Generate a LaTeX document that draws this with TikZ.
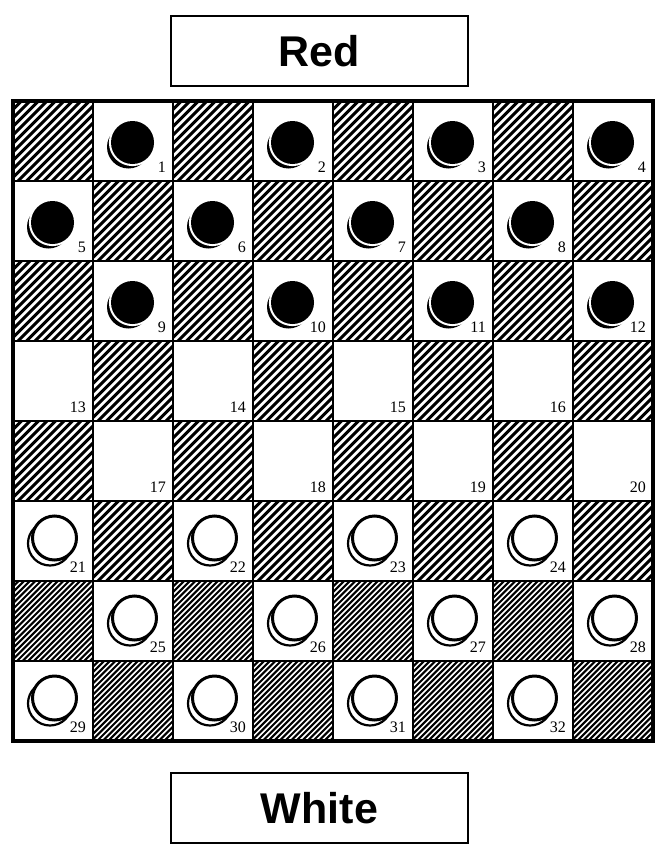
\documentclass[tikz,border=0pt]{standalone}
\usepackage{fontspec}
\setmainfont{Liberation Serif}
\newfontfamily\titlefont{Liberation Sans}
\begin{document}
\begin{tikzpicture}[x=1pt,y=-1pt,
  sqbox/.style={draw=black, line width=2.5pt, minimum size=80pt, inner sep=0pt, outer sep=0pt},
  coarseline/.style={line width=3pt},
  fineline/.style={line width=2.1pt},
  numlabel/.style={font=\fontsize{16}{16}\selectfont, inner sep=0pt, anchor=base east},
  titlebox/.style={draw, line width=2pt, minimum width=297pt, minimum height=70pt, inner sep=0pt,
    font=\titlefont\bfseries\fontsize{43}{43}\selectfont},
]
\useasboundingbox (0,0) rectangle (669,859);
\fill[white] (0,0) rectangle (669,859);

\node[titlebox] (red) at (319.5,51) {Red};
\node[titlebox] (white) at (319.5,808) {White};

% hatching of the dark squares
\foreach \r in {0,...,7}{
  \foreach \c in {0,...,7}{
    \pgfmathtruncatemacro\sqodd{mod(\r+\c,2)}
    \pgfmathsetmacro\xl{13+80*\c}
    \pgfmathsetmacro\yt{101+80*\r}
    \ifnum\sqodd=0
      \begin{scope}
        \clip (\xl,\yt) rectangle (\xl+80,\yt+80);
        \ifnum\r<6
          \foreach \t in {0,8.5,...,170}{\draw[coarseline] (\xl+\t-80,\yt+80) -- (\xl+\t,\yt);}
        \else
          \foreach \t in {0,5.6,...,170}{\draw[fineline] (\xl+\t-80,\yt+80) -- (\xl+\t,\yt);}
        \fi
      \end{scope}
    \fi
  }
}

% squares, pieces, numbers
\foreach \r in {0,...,7}{
  \foreach \c in {0,...,7}{
    \pgfmathtruncatemacro\sqodd{mod(\r+\c,2)}
    \pgfmathsetmacro\cx{53+80*\c}
    \pgfmathsetmacro\cy{141+80*\r}
    \node[sqbox] (sq-\r-\c) at (\cx,\cy) {};
    \ifnum\sqodd=1
      \pgfmathtruncatemacro\num{4*\r+floor(\c/2)+1}
      \ifnum\r<3
        \fill (\cx-4.5,\cy+6) circle (21.5pt);
        \fill[white] (\cx-0.5,\cy+1.5) circle (23.6pt);
        \fill (\cx-0.5,\cy+1.5) circle (21.5pt);
      \fi
      \ifnum\r>4
        \draw[line width=2.2pt, fill=white] (\cx-3,\cy+2.5) circle (22pt);
        \draw[line width=3pt, fill=white] (\cx+1.5,\cy-3) circle (22pt);
      \fi
      \node[numlabel] (n\num) at ([xshift=-7pt,yshift=9pt]sq-\r-\c.south east) {\num};
    \fi
  }
}
\draw[line width=3.5pt] (13,101) rectangle (653,741);
\end{tikzpicture}
\end{document}
